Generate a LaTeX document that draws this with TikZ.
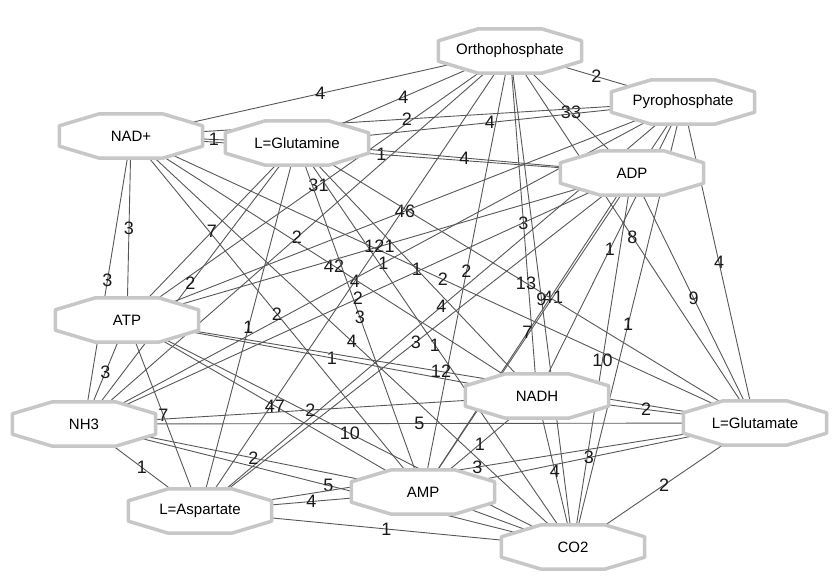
\documentclass[tikz,border=0pt]{standalone}
\usepackage{fontspec}
\setmainfont{Liberation Sans}
\pgfdeclarelayer{back}
\pgfsetlayers{back,main}
\begin{document}
\begin{tikzpicture}[x=1pt,y=-1pt,
  every node/.style={font=\fontsize{15}{18}\selectfont},
  met/.style={minimum width=143pt,minimum height=44pt,inner sep=0pt},
  octo/.style={draw=black!22,line width=3.5pt,fill=white,line join=round},
  link/.style={draw=black!66,line width=0.9pt},
  wt/.style={font=\fontsize{18}{20}\selectfont,inner sep=1pt,text=black!90}]
\useasboundingbox (0,0) rectangle (836,582);
\node[met] (orth) at (510,51) {Orthophosphate};
\node[met] (pyro) at (683,102) {Pyrophosphate};
\node[met] (nadp) at (131,136) {NAD+};
\node[met] (gln) at (297,143) {L=Glutamine};
\node[met] (adp) at (632,173) {ADP};
\node[met] (atp) at (127,320) {ATP};
\node[met] (nadh) at (537,396) {NADH};
\node[met] (nh3) at (84,424) {NH3};
\node[met] (glu) at (755,423) {L=Glutamate};
\node[met] (amp) at (423,492) {AMP};
\node[met] (asp) at (200,511) {L=Aspartate};
\node[met] (co2) at (573,547) {CO2};
\begin{pgfonlayer}{back}
\foreach \a/\b/\w in {orth/pyro/2, orth/nadp/4, orth/gln/4, orth/adp/33, orth/atp/31,
    orth/nadh/3, orth/nh3/2, orth/glu/8, orth/amp/2, orth/asp/4, orth/co2/9,
    pyro/nadp/2, pyro/gln/4, pyro/atp/46, pyro/nadh/1, pyro/nh3/1, pyro/glu/4,
    pyro/amp/41, pyro/asp/4, pyro/co2/1,
    nadp/gln/1, nadp/adp/1, nadp/atp/3, nadp/nadh/42, nadp/nh3/3, nadp/glu/2,
    nadp/amp/2, nadp/co2/4,
    gln/adp/4, gln/atp/7, gln/nadh/1, gln/nh3/2, gln/glu/13, gln/amp/3, gln/asp/1, gln/co2/1,
    adp/atp/121, adp/nh3/2, adp/glu/9, adp/amp/7, adp/asp/3, adp/co2/10,
    atp/nadh/1, atp/nh3/3, atp/glu/12, atp/amp/47, atp/asp/7, atp/co2/10,
    nadh/nh3/2, nadh/glu/2, nadh/amp/1, nadh/co2/4,
    nh3/glu/5, nh3/amp/2, nh3/asp/1, nh3/co2/5,
    glu/amp/3, glu/asp/3, glu/co2/2, amp/asp/4, asp/co2/1, amp/co2/}
  \draw[link] (\a.center) -- node[wt] {\w} (\b.center);
\foreach \n in {orth,pyro,nadp,gln,adp,atp,nadh,nh3,glu,amp,asp,co2}
  \draw[octo] ([xshift=40pt]\n.north west) -- ([xshift=-40pt]\n.north east)
    -- ([yshift=-12pt]\n.north east) -- ([yshift=12pt]\n.south east)
    -- ([xshift=-40pt]\n.south east) -- ([xshift=40pt]\n.south west)
    -- ([yshift=12pt]\n.south west) -- ([yshift=-12pt]\n.north west) -- cycle;
\end{pgfonlayer}
\end{tikzpicture}
\end{document}
